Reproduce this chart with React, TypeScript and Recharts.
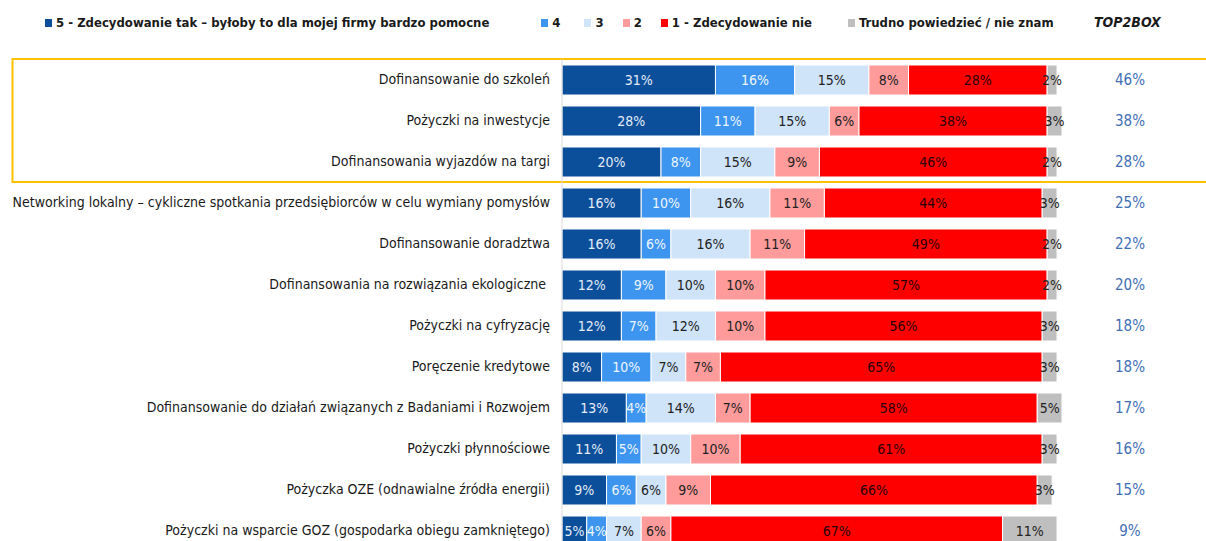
import { BarChart, Bar, XAxis, YAxis, LabelList, ReferenceArea } from 'recharts';

const categories = [
  'Dofinansowanie do szkoleń',
  'Pożyczki na inwestycje',
  'Dofinansowania wyjazdów na targi',
  'Networking lokalny – cykliczne spotkania przedsiębiorców w celu wymiany pomysłów',
  'Dofinansowanie doradztwa',
  'Dofinansowania na rozwiązania ekologiczne\u00a0',
  'Pożyczki na cyfryzację',
  'Poręczenie kredytowe',
  'Dofinansowanie do działań związanych z Badaniami i Rozwojem',
  'Pożyczki płynnościowe',
  'Pożyczka OZE (odnawialne źródła energii)',
  'Pożyczki na wsparcie GOZ (gospodarka obiegu zamkniętego)',
];

const yes5 = [31, 28, 20, 16, 16, 12, 12, 8, 13, 11, 9, 5];
const four = [16, 11, 8, 10, 6, 9, 7, 10, 4, 5, 6, 4];
const three = [15, 15, 15, 16, 16, 10, 12, 7, 14, 10, 6, 7];
const two = [8, 6, 9, 11, 11, 10, 10, 7, 7, 10, 9, 6];
const no1 = [28, 38, 46, 44, 49, 57, 56, 65, 58, 61, 66, 67];
const dontKnow = [2, 3, 2, 3, 2, 2, 3, 3, 5, 3, 3, 11];
const top2box = [46, 38, 28, 25, 22, 20, 18, 18, 17, 16, 15, 9];

const FONT = "'Liberation Sans Narrow', 'DejaVu Sans Condensed', 'Arial Narrow', sans-serif";

const SERIES = [
  { key: 'yes5', label: '5 - Zdecydowanie tak – byłoby to dla mojej firmy bardzo pomocne', color: '#0b4f9b', text: '#e4ecf7' },
  { key: 'four', label: '4', color: '#3d95ef', text: '#eef5fd' },
  { key: 'three', label: '3', color: '#cfe3f9', text: '#222' },
  { key: 'two', label: '2', color: '#ff9b9b', text: '#222' },
  { key: 'no1', label: '1 - Zdecydowanie nie', color: '#ff0000', text: '#2a0000' },
  { key: 'dontKnow', label: 'Trudno powiedzieć / nie znam', color: '#bfbfbf', text: '#222' },
];

// spacing after each legend entry
const LEGEND_GAPS = [52, 24, 19, 19, 36, 0];

const data = categories.map((name, i) => ({
  name,
  yes5: yes5[i],
  four: four[i],
  three: three[i],
  two: two[i],
  no1: no1[i],
  dontKnow: dontKnow[i],
}));

function ChartLegend() {
  return (
    <div
      style={{
        position: 'absolute',
        top: 15,
        left: 45,
        display: 'flex',
        alignItems: 'center',
        fontFamily: FONT,
        fontWeight: 700,
        fontSize: 13,
        color: '#1a1a1a',
        whiteSpace: 'nowrap',
      }}
    >
      {SERIES.map((s, i) => (
        <div key={s.key} style={{ display: 'flex', alignItems: 'center', marginRight: LEGEND_GAPS[i] }}>
          <span style={{ width: 7, height: 8, background: s.color, marginRight: 4, display: 'inline-block' }} />
          {s.label}
        </div>
      ))}
    </div>
  );
}

export default function App() {
  return (
    <div style={{ position: 'absolute', left: 0, top: 0, width: 1206, height: 541, overflow: 'hidden', background: '#fff' }}>
      <ChartLegend />
      <div
        style={{
          position: 'absolute',
          top: 14,
          left: 1094,
          fontFamily: FONT,
          fontWeight: 700,
          fontStyle: 'italic',
          fontSize: 14,
          color: '#1a1a1a',
        }}
      >
        TOP2BOX
      </div>
      <BarChart
        width={1206}
        height={560}
        data={data}
        layout="vertical"
        margin={{ top: 59, right: 0, bottom: 9, left: 0 }}
        style={{ position: 'absolute', top: 0, left: 0 }}
      >
        <XAxis type="number" domain={[0, 101]} hide />
        <YAxis
          yAxisId="left"
          type="category"
          dataKey="name"
          width={562}
          interval={0}
          tickLine={false}
          tickSize={0}
          tickMargin={12}
          axisLine={{ stroke: '#d9d9d9' }}
          tick={{ fill: '#1a1a1a', fontSize: 14, fontFamily: FONT }}
        />
        <YAxis
          yAxisId="right"
          orientation="right"
          type="category"
          dataKey="name"
          width={144}
          interval={0}
          tickLine={false}
          axisLine={false}
          tickSize={0}
          tickMargin={68}
          tickFormatter={(_: string, i: number) => `${top2box[i]}%`}
          tick={{ fill: '#3f6fb5', fontSize: 15, fontFamily: FONT, textAnchor: 'middle' }}
        />
        <ReferenceArea
          yAxisId="left"
          y1={categories[0]}
          y2={categories[2]}
          x1={-111}
          x2={135}
          ifOverflow="visible"
          fill="none"
          fillOpacity={0}
          stroke="#ffc000"
          strokeWidth={2}
        />
        {SERIES.map((s) => (
          <Bar
            key={s.key}
            yAxisId="left"
            dataKey={s.key}
            stackId="a"
            barSize={30}
            fill={s.color}
            stroke="#ffffff"
            strokeWidth={1}
            isAnimationActive={false}
          >
            <LabelList
              dataKey={s.key}
              position="center"
              formatter={(v: number) => `${v}%`}
              fill={s.text}
              fontSize={14}
              fontFamily={FONT}
            />
          </Bar>
        ))}
      </BarChart>
    </div>
  );
}
